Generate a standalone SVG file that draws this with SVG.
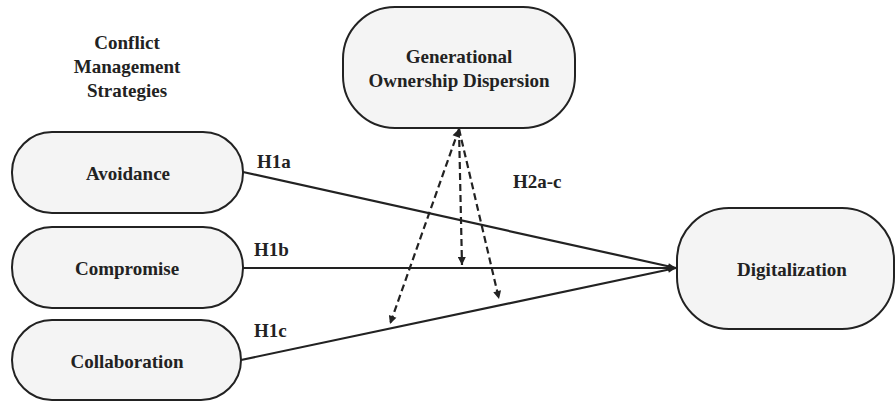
<svg xmlns="http://www.w3.org/2000/svg" width="896" height="402" viewBox="0 0 896 402">
<style>
.node{fill:#f4f4f4;stroke:#222;stroke-width:2}
.t{font-family:'Liberation Serif','Times New Roman',serif;font-weight:700;font-size:19px;fill:#222;text-anchor:middle}
.lab{text-anchor:start}
.ln{stroke:#222;stroke-width:2.2;fill:none}
.dash{stroke:#222;stroke-width:2.2;fill:none;stroke-dasharray:7,4}
</style>
<defs>
<marker id="ah" viewBox="0 0 10 10" refX="10" refY="5" markerWidth="12" markerHeight="8" markerUnits="userSpaceOnUse" orient="auto"><path d="M0,1 L10,5 L0,9 z" fill="#222"/></marker>
<marker id="dh" viewBox="0 0 10 10" refX="10" refY="5" markerWidth="11" markerHeight="8" markerUnits="userSpaceOnUse" orient="auto"><path d="M0,0 L10,5 L0,10 z" fill="#222"/></marker>
<marker id="dt" viewBox="0 0 10 10" refX="0" refY="5" markerWidth="11" markerHeight="8" markerUnits="userSpaceOnUse" orient="auto"><path d="M10,0 L0,5 L10,10 z" fill="#222"/></marker>
</defs>
<text class="t" x="127" y="49">Conflict</text>
<text class="t" x="127" y="73">Management</text>
<text class="t" x="127" y="97">Strategies</text>
<g id="connectors">
<line class="ln" x1="243" y1="172" x2="676" y2="268" marker-end="url(#ah)"/>
<line class="ln" x1="243" y1="268" x2="676" y2="268" marker-end="url(#ah)"/>
<line class="ln" x1="241" y1="360" x2="676" y2="268" marker-end="url(#ah)"/>
<line class="dash" x1="459" y1="129" x2="390" y2="324" marker-end="url(#dh)" marker-start="url(#dt)"/>
<line class="dash" x1="459" y1="129" x2="462" y2="265" marker-end="url(#dh)"/>
<line class="dash" x1="459" y1="129" x2="499" y2="299" marker-end="url(#dh)"/>
<text class="t lab" x="257" y="168">H1a</text>
<text class="t lab" x="254" y="256">H1b</text>
<text class="t lab" x="254" y="337">H1c</text>
<text class="t lab" x="513" y="188">H2a-c</text>
</g>
<g id="avoidance"><rect class="node" x="12" y="132" width="231" height="81" rx="40"/><text class="t" x="128" y="180">Avoidance</text></g>
<g id="compromise"><rect class="node" x="12" y="227" width="231" height="81" rx="40"/><text class="t" x="127" y="275">Compromise</text></g>
<g id="collaboration"><rect class="node" x="12" y="320" width="229" height="80" rx="40"/><text class="t" x="127" y="368">Collaboration</text></g>
<g id="generational"><rect class="node" x="343" y="7" width="232" height="121" rx="52"/><text class="t" x="459" y="63">Generational</text><text class="t" x="459" y="87">Ownership Dispersion</text></g>
<g id="digitalization"><rect class="node" x="677" y="208" width="217" height="121" rx="52"/><text class="t" x="792" y="276">Digitalization</text></g>
</svg>
